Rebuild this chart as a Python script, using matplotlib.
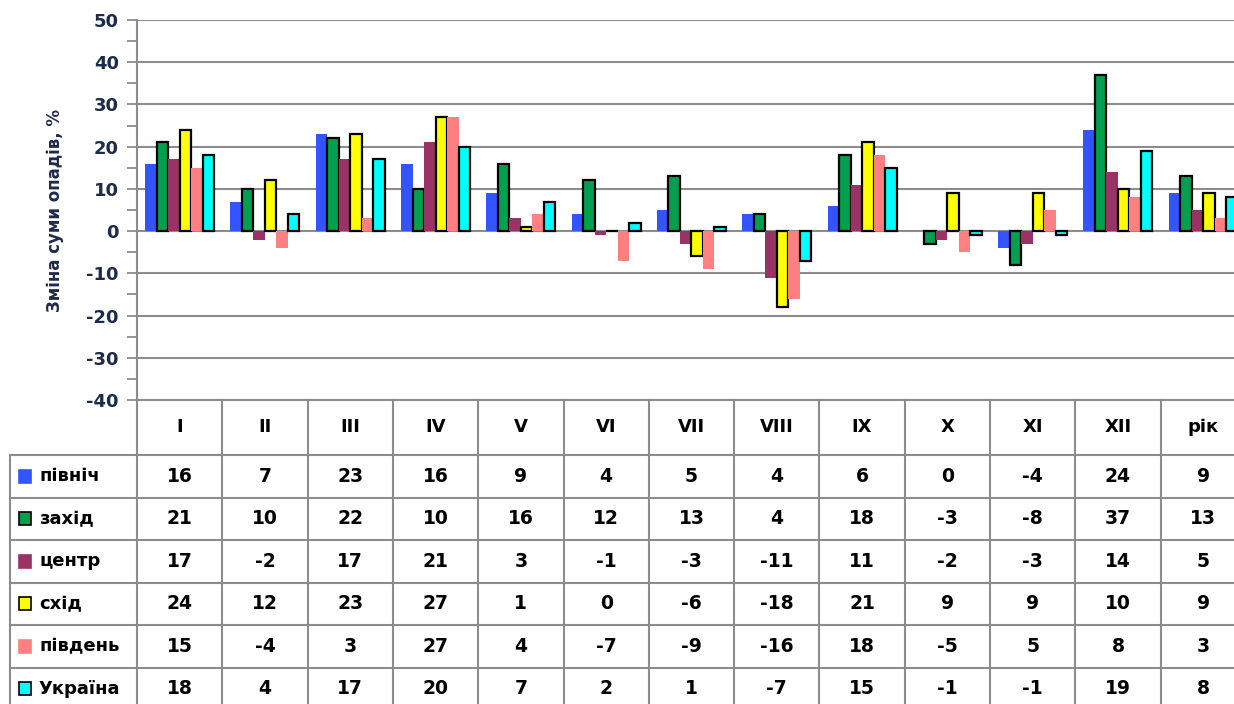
import matplotlib.pyplot as plt
import numpy as np

plt.rcParams["axes.unicode_minus"] = False

months = ["I", "II", "III", "IV", "V", "VI", "VII", "VIII", "IX", "X", "XI", "XII", "рік"]
regions = ["північ", "захід", "центр", "схід", "південь", "Україна"]

pivnich = [16, 7, 23, 16, 9, 4, 5, 4, 6, 0, -4, 24, 9]
zakhid = [21, 10, 22, 10, 16, 12, 13, 4, 18, -3, -8, 37, 13]
tsentr = [17, -2, 17, 21, 3, -1, -3, -11, 11, -2, -3, 14, 5]
skhid = [24, 12, 23, 27, 1, 0, -6, -18, 21, 9, 9, 10, 9]
pivden = [15, -4, 3, 27, 4, -7, -9, -16, 18, -5, 5, 8, 3]
ukraina = [18, 4, 17, 20, 7, 2, 1, -7, 15, -1, -1, 19, 8]

series = [pivnich, zakhid, tsentr, skhid, pivden, ukraina]
colors = ["#3355FF", "#00A050", "#993366", "#FFFF00", "#FF8080", "#00FFFF"]
outlined = [False, True, False, True, False, True]

NAVY = "#1C2B4C"
GRID = "#8C8C8C"

fig = plt.figure(figsize=(12.34, 7.04), dpi=100)

# column width ~85.3 px, 13 columns starting at x=137 px
col_w = 85.3 / 1234
left = 137 / 1234
ax = fig.add_axes([left, 1 - 400 / 704, col_w * 13, 380 / 704])

x = np.arange(len(months))
bw = 0.135
for i, (vals, c, ol) in enumerate(zip(series, colors, outlined)):
    ax.bar(x + (i - 2.5) * bw, vals, width=bw, color=c,
           edgecolor="black" if ol else c, linewidth=1.6 if ol else 0, zorder=3)

ax.set_xlim(-0.5, 12.5)
ax.set_ylim(-40, 50)
ax.set_yticks(np.arange(-40, 51, 10))
ax.set_yticks(np.arange(-35, 50, 10), minor=True)
ax.yaxis.grid(True, color=GRID, linewidth=1.5, zorder=0)
ax.axhline(0, color=GRID, linewidth=1.2, zorder=2)
ax.set_xticks([])
for s in ["top", "right", "bottom"]:
    ax.spines[s].set_visible(False)
ax.spines["left"].set_color(GRID)
ax.spines["left"].set_linewidth(1.5)
ax.tick_params(axis="y", which="both", length=7, width=1.3, color=GRID,
               labelsize=13, labelcolor=NAVY, pad=6)
for lab in ax.get_yticklabels():
    lab.set_fontweight("bold")
ax.set_ylabel("Зміна суми опадів, %", fontsize=12, fontweight="bold", color=NAVY, labelpad=16)

# data table below the chart
tab = fig.add_axes([left, 1 - 709 / 704, col_w * 13, 309 / 704])
tab.set_xlim(-0.5, 12.5)
tab.set_ylim(309, 0)
tab.axis("off")

row_edges = [0, 55, 97.5, 140, 182.5, 225, 267.5, 310]
leg_left = -0.5 - 127 / 85.3
line_kw = dict(color=GRID, linewidth=1.5, clip_on=False)

for k in range(14):
    tab.plot([k - 0.5, k - 0.5], [0, 310], **line_kw)
tab.plot([leg_left, leg_left], [55, 310], **line_kw)
tab.plot([-0.5, 12.5], [0, 0], **line_kw)
for y in row_edges[1:-1]:
    tab.plot([leg_left, 12.5], [y, y], **line_kw)

for k, m in enumerate(months):
    tab.text(k, 27.5, m, ha="center", va="center", fontsize=13, fontweight="bold")

for r, (name, vals, c, ol) in enumerate(zip(regions, series, colors, outlined)):
    yc = (row_edges[r + 1] + row_edges[r + 2]) / 2
    tab.add_patch(plt.Rectangle((leg_left + 0.1, yc - 6.5), 0.15, 13, facecolor=c,
                                edgecolor="black" if ol else c, linewidth=1.2, clip_on=False))
    tab.text(leg_left + 0.34, yc, name, ha="left", va="center", fontsize=13, fontweight="bold")
    for k, v in enumerate(vals):
        tab.text(k, yc, f"{v}", ha="center", va="center", fontsize=13.5, fontweight="bold")

fig.savefig("out.png", dpi=100)
